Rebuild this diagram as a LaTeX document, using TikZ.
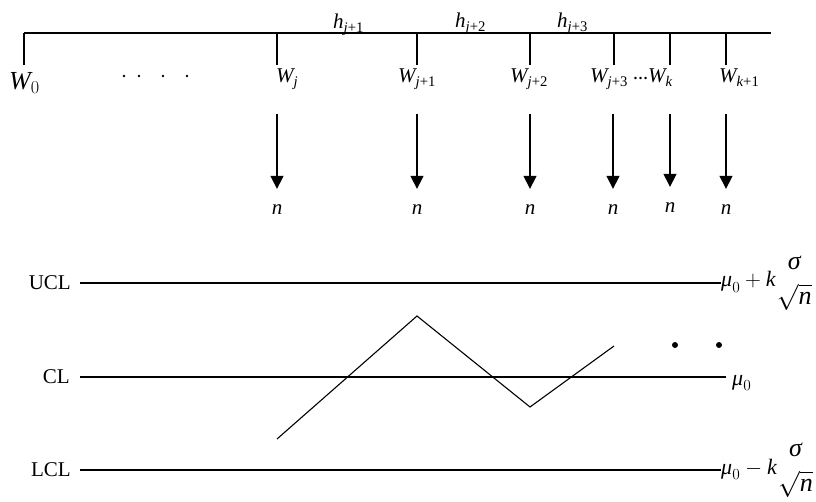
\documentclass[tikz,border=0pt]{standalone}
\usepackage{fix-cm}
\usepackage{amsmath}
\usepackage{fontspec}
\setmainfont{Liberation Serif}
\usetikzlibrary{arrows.meta}

\newcommand\vi[1]{\textit{#1}}
\newcommand\limfrac{\mbox{\fontsize{26}{30}\selectfont$\genfrac{}{}{0pt}{0}{\vi{σ}}{\sqrt{\vi{n}}}$}}

\begin{document}
\begin{tikzpicture}[x=1pt, y=-1pt,
  lab/.style={inner sep=0pt, font=\fontsize{21}{24}\selectfont},
  txt/.style={inner sep=0pt, font=\fontsize{21}{24}\selectfont},
  fml/.style={inner sep=0pt, font=\fontsize{22}{26}\selectfont},
  smp/.style={line width=1.3pt, -{Triangle[width=13pt,length=13pt]}, shorten >=16pt},
  lim/.style={line width=1.5pt}]

  \useasboundingbox (0,0) rectangle (816,502);

  % Time axis and sampling instants
  \draw[line width=1.8pt] (24,33) -- (771,33);
  \foreach \x in {24,277,417,530,614,670,726}
    \draw[line width=1.2pt] (\x,33) -- (\x,65);

  % Interval lengths
  \node[lab, anchor=base west] (hja) at (333,29) {$\vi{h}_{\vi{j}\text{+1}}$};
  \node[lab, anchor=base west] (hjb) at (455,28) {$\vi{h}_{\vi{j}\text{+2}}$};
  \node[lab, anchor=base west] (hjc) at (557,28) {$\vi{h}_{\vi{j}\text{+3}}$};

  % Sampling times
  \node[lab, anchor=base west, font=\fontsize{26}{30}\selectfont] (W0) at (9,90) {$\vi{W}_0$};
  \foreach \x in {124,139,163,187}
    \fill (\x,76) circle (1.4);
  \node[lab, anchor=base west] (Wj)  at (276,83) {$\vi{W}_{\vi{j}}$};
  \node[lab, anchor=base west] (Wja) at (398,83) {$\vi{W}_{\vi{j}\text{+1}}$};
  \node[lab, anchor=base west] (Wjb) at (510,83) {$\vi{W}_{\vi{j}\text{+2}}$};
  \node[lab, anchor=base west] (Wjc) at (590,83) {$\vi{W}_{\vi{j}\text{+3}}$};
  \node[lab, anchor=base west, font=\fontsize{15}{18}\selectfont\bfseries] (Wdt) at (633,80) {…};
  \node[lab, anchor=base west] (Wk)  at (648,83) {$\vi{W}_{\vi{k}}$};
  \node[lab, anchor=base west] (Wka) at (719,83) {$\vi{W}_{\vi{k}\text{+1}}$};

  % Samples of size n
  \foreach \x/\y/\nm in {277/210/j, 417/210/ja, 530/210/jb, 613/210/jc, 670/208/k, 726/210/ka} {
    \coordinate (s\nm) at (\x,114);
    \node[lab] (n\nm) at (\x,\y) {\vi{n}};
    \draw[smp] (s\nm) -- (n\nm);
  }

  % Control limits
  \node[txt, anchor=east] (UCL) at (71,283) {UCL};
  \node[txt, anchor=east] (CL)  at (70,377) {CL};
  \node[txt, anchor=east] (LCL) at (71,470) {LCL};
  \node[fml, anchor=base west] (UCLv) at (721,287) {$\vi{μ}_0+\vi{k}\limfrac$};
  \node[fml, anchor=base west] (CLv)  at (732,385) {$\vi{μ}_0$};
  \node[fml, anchor=base west] (LCLv) at (721,474) {$\vi{μ}_0-\vi{k}\limfrac$};
  \draw[lim, shorten <=9pt] (UCL.east) -- (UCLv.west |- UCL.east);
  \draw[lim, shorten <=10pt, shorten >=6pt] (CL.east) -- (CLv.west |- CL.east);
  \draw[lim, shorten <=9pt] (LCL.east) -- (LCLv.west |- LCL.east);

  % Plotted statistic
  \draw[line width=1.1pt] (277,439) -- (417,316) -- (530,407) -- (614,346);
  \fill (675,345) circle (3);
  \fill (719,345) circle (3);

\end{tikzpicture}
\end{document}
